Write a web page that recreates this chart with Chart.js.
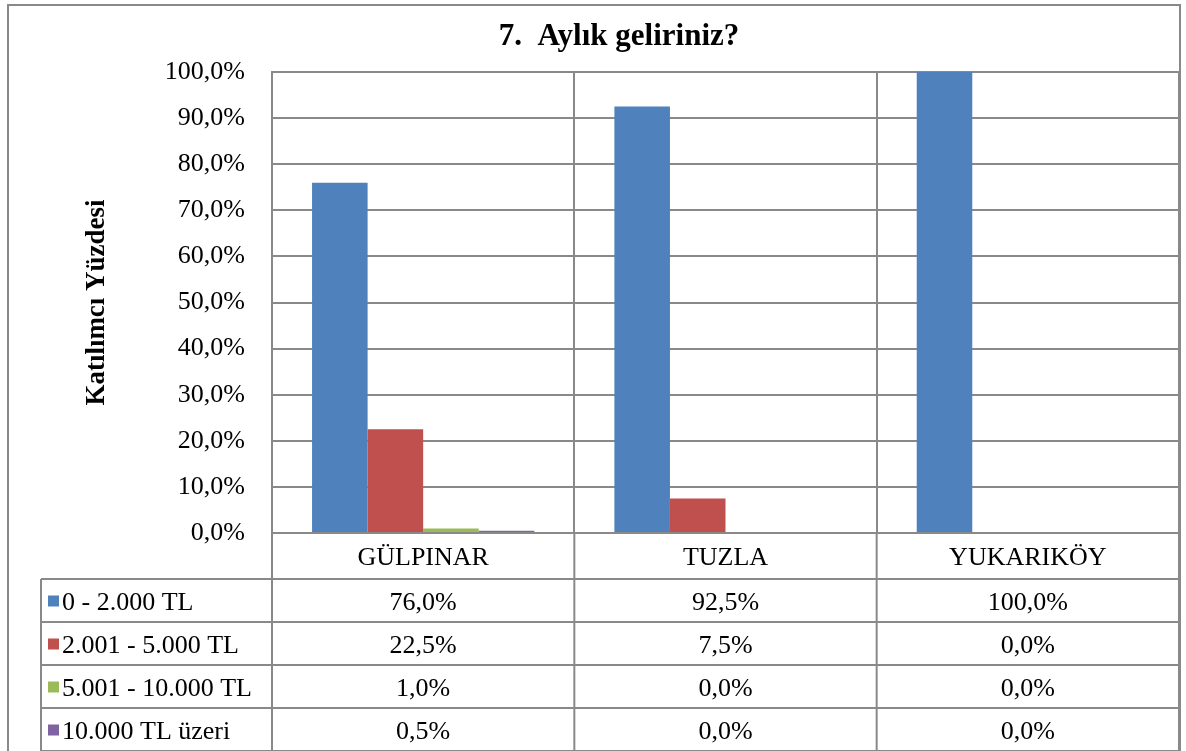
<!DOCTYPE html>
<html>
<head>
<meta charset="utf-8">
<script src="https://cdn.jsdelivr.net/npm/chart.js@4.4.1/dist/chart.umd.min.js"></script>
<style>
  html, body { margin: 0; padding: 0; background: #fff; }
  canvas { display: block; }
</style>
</head>
<body>
<canvas id="gelirChart" width="1186" height="751"></canvas>
<script>
// veriler
const koyler = ['GÜLPINAR', 'TUZLA', 'YUKARIKÖY'];
const gelirGruplari = ['0 - 2.000 TL', '2.001 - 5.000 TL', '5.001 - 10.000 TL', '10.000 TL üzeri'];
const grup1 = [76.0, 92.5, 100.0];
const grup2 = [22.5, 7.5, 0.0];
const grup3 = [1.0, 0.0, 0.0];
const grup4 = [0.5, 0.0, 0.0];
const renkler = ['#4F81BD', '#C0504D', '#9BBB59', '#8064A2'];
const yTicks = [0, 10, 20, 30, 40, 50, 60, 70, 80, 90, 100];

const seriler = [grup1, grup2, grup3, grup4];
const cizgiRengi = '#898989';
const yazi = '"Liberation Serif", "Times New Roman", serif';

function yuzde(v) {
    return v.toFixed(1).replace('.', ',') + '%';
}

// arka plan ve dış çerçeve
const cerceve = {
    id: 'cerceve',
    beforeDraw(chart) {
        const c = chart.ctx;
        c.save();
        c.fillStyle = '#fff';
        c.fillRect(0, 0, chart.width, chart.height);
        c.strokeStyle = cizgiRengi;
        c.lineWidth = 2;
        c.strokeRect(8, 5, 1172, 800);
        c.restore();
    }
};

// grafiğin altındaki veri tablosu
const veriTablosu = {
    id: 'veriTablosu',
    afterDraw(chart) {
        const c = chart.ctx;
        const x = chart.scales.x;
        const area = chart.chartArea;
        const adim = (area.right - area.left) / koyler.length;
        const tabloSol = 41;
        const baslikAlt = 579;
        const satir = 43;

        c.save();
        c.strokeStyle = cizgiRengi;
        c.lineWidth = 2;

        // yatay çizgiler
        for (let i = 0; i <= gelirGruplari.length; i++) {
            const y = baslikAlt + i * satir;
            c.beginPath();
            c.moveTo(tabloSol, y);
            c.lineTo(area.right, y);
            c.stroke();
        }
        // dikey çizgiler
        for (let i = 0; i <= koyler.length; i++) {
            const xx = area.left + i * adim;
            c.beginPath();
            c.moveTo(xx, area.bottom);
            c.lineTo(xx, chart.height + 5);
            c.stroke();
        }
        c.beginPath();
        c.moveTo(tabloSol, baslikAlt);
        c.lineTo(tabloSol, chart.height + 5);
        c.stroke();

        // etiketler ve değerler
        c.font = '26px ' + yazi;
        c.fillStyle = '#000';
        c.textBaseline = 'middle';
        gelirGruplari.forEach((ad, i) => {
            const orta = baslikAlt + i * satir + satir / 2;
            c.fillStyle = renkler[i];
            c.fillRect(tabloSol + 7, orta - 5, 11, 11);
            c.fillStyle = '#000';
            c.textAlign = 'left';
            c.fillText(ad, tabloSol + 21, orta + 2.5);
            c.textAlign = 'center';
            seriler[i].forEach((v, j) => {
                c.fillText(yuzde(v), x.getPixelForValue(j), orta + 2.5);
            });
        });
        c.restore();
    }
};

document.addEventListener('DOMContentLoaded', function () {
    const ctx = document.getElementById('gelirChart');

    new Chart(ctx, {
        type: 'bar',
        data: {
            labels: koyler,
            datasets: gelirGruplari.map((ad, i) => ({
                label: ad,
                data: seriler[i],
                backgroundColor: renkler[i],
                borderWidth: 0,
                categoryPercentage: 0.735,
                barPercentage: 1.0
            }))
        },
        options: {
            responsive: false,
            animation: false,
            layout: {
                padding: { left: 59, right: 7, top: 0, bottom: 0 }
            },
            plugins: {
                legend: { display: false },
                tooltip: { enabled: false },
                title: {
                    display: true,
                    text: '7.  Aylık geliriniz?',
                    color: '#000',
                    font: { family: yazi, size: 31, weight: 'bold' },
                    padding: { top: 18, bottom: 16.8 }
                }
            },
            scales: {
                x: {
                    grid: {
                        color: cizgiRengi,
                        lineWidth: 2,
                        drawTicks: false,
                        offset: true
                    },
                    border: { color: cizgiRengi, width: 2 },
                    ticks: {
                        color: '#000',
                        font: { family: yazi, size: 26 },
                        padding: 10,
                        maxRotation: 0
                    },
                    afterFit: function (scale) {
                        scale.height = 218;
                    }
                },
                y: {
                    min: 0,
                    max: 100,
                    afterBuildTicks: function (scale) {
                        scale.ticks = yTicks.map(v => ({ value: v }));
                    },
                    grid: {
                        color: cizgiRengi,
                        lineWidth: 2,
                        drawTicks: false
                    },
                    border: { color: cizgiRengi, width: 2 },
                    ticks: {
                        color: '#000',
                        font: { family: yazi, size: 26 },
                        padding: 27,
                        callback: function (v) { return yuzde(v); }
                    },
                    title: {
                        display: true,
                        text: 'Katılımcı Yüzdesi',
                        color: '#000',
                        font: { family: yazi, size: 27, weight: 'bold' },
                        padding: { top: 22, bottom: 0 }
                    },
                    afterFit: function (scale) {
                        scale.width = 213;
                    }
                }
            }
        },
        plugins: [cerceve, veriTablosu]
    });
});
</script>
</body>
</html>
